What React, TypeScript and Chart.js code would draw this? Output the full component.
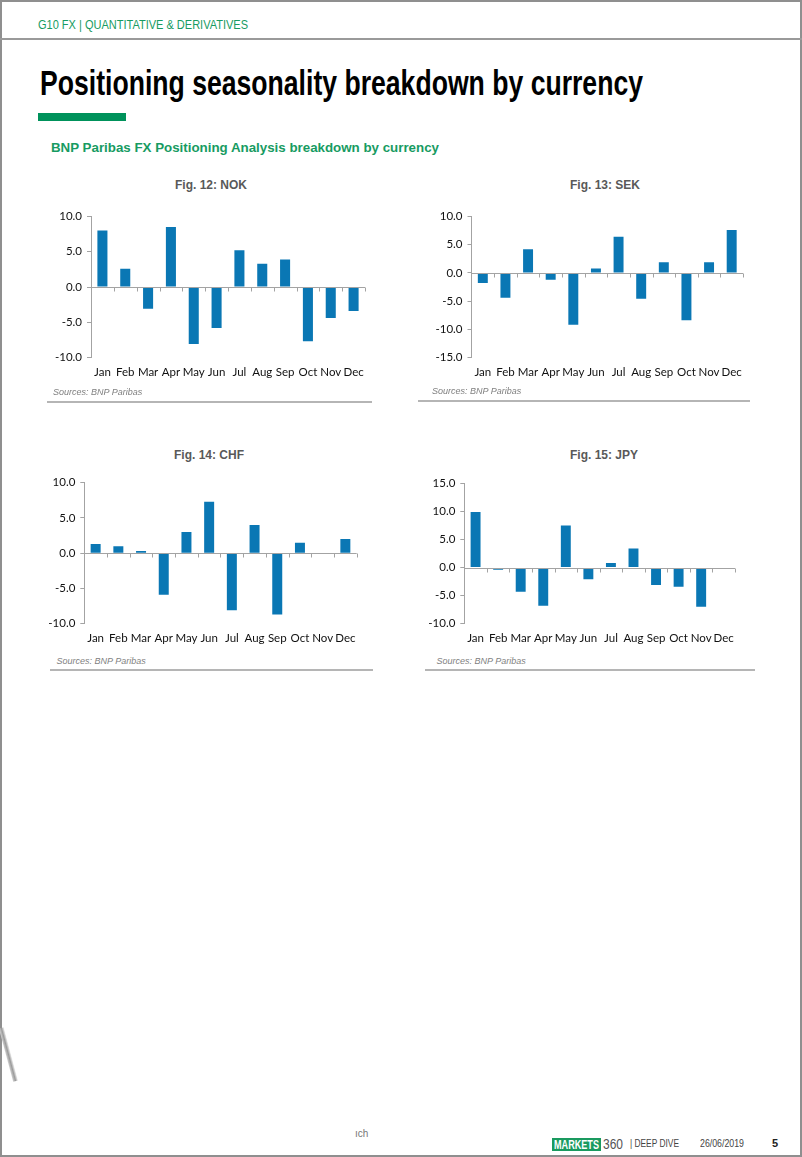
import React, { useEffect, useLayoutEffect, useRef } from "react";
import { Chart, registerables } from "chart.js";

Chart.register(...registerables);

const months = ["Jan", "Feb", "Mar", "Apr", "May", "Jun", "Jul", "Aug", "Sep", "Oct", "Nov", "Dec"];
const nokValues = [8.0, 2.6, -3.1, 8.5, -8.1, -5.8, 5.2, 3.3, 3.9, -7.7, -4.4, -3.4];
const sekValues = [-1.8, -4.4, 4.2, -1.2, -9.2, 0.8, 6.4, -4.6, 1.9, -8.4, 1.9, 7.6];
const chfValues = [1.3, 1.0, 0.3, -5.9, 3.0, 7.3, -8.1, 4.0, -8.7, 1.5, 0.0, 2.0];
const jpyValues = [9.9, -0.4, -4.3, -6.8, 7.5, -2.1, 0.8, 3.4, -3.1, -3.4, -7.0, 0.0];
const nokTicks = { min: -10, max: 10, step: 5 };
const sekTicks = { min: -15, max: 10, step: 5 };
const chfTicks = { min: -10, max: 10, step: 5 };
const jpyTicks = { min: -10, max: 15, step: 5 };

const BAR = "#0a77b4";
const AXIS = "#a3a3a3";
const GREEN = "#179b62";

const zeroAxisPlugin = {
  id: "zeroAxis",
  afterDatasetsDraw(chart: any) {
    const { ctx, chartArea, scales } = chart;
    const x = scales.x;
    const y = scales.y;
    const y0 = Math.round(y.getPixelForValue(0)) + 0.5;
    ctx.save();
    ctx.strokeStyle = AXIS;
    ctx.lineWidth = 1;
    ctx.beginPath();
    ctx.moveTo(chartArea.left, y0);
    ctx.lineTo(chartArea.right, y0);
    const n = chart.data.labels.length;
    for (let i = 1; i <= n; i++) {
      const px = i < n ? (x.getPixelForValue(i - 1) + x.getPixelForValue(i)) / 2 : chartArea.right;
      const xx = Math.round(px) + 0.5;
      ctx.moveTo(xx, y0);
      ctx.lineTo(xx, y0 + 4);
    }
    ctx.stroke();
    ctx.restore();
  },
};

type BoxProps = {
  values: number[];
  ticks: { min: number; max: number; step: number };
  left: number;
  top: number;
  width: number;
  height: number;
  yAxisWidth: number;
  padTop: number;
  padRight: number;
  xAxisHeight: number;
};

function BarBox(p: BoxProps) {
  const ref = useRef<HTMLCanvasElement>(null);
  useEffect(() => {
    if (!ref.current) return;
    const chart = new Chart(ref.current, {
      type: "bar",
      data: {
        labels: months,
        datasets: [
          {
            data: p.values,
            backgroundColor: BAR,
            borderWidth: 0,
            barPercentage: 0.44,
            categoryPercentage: 1,
          },
        ],
      },
      options: {
        responsive: false,
        animation: false,
        events: [],
        layout: { padding: { top: p.padTop, right: p.padRight, left: 0, bottom: 0 } },
        plugins: { legend: { display: false }, tooltip: { enabled: false }, title: { display: false } },
        scales: {
          x: {
            type: "category",
            offset: true,
            grid: { display: false, drawTicks: false },
            border: { display: false },
            ticks: {
              autoSkip: false,
              maxRotation: 0,
              minRotation: 0,
              padding: 8,
              color: "#111",
              font: { family: "Lato", size: 11.5 },
            },
            afterFit: (s: any) => {
              s.height = p.xAxisHeight;
            },
          },
          y: {
            min: p.ticks.min,
            max: p.ticks.max,
            grid: {
              drawOnChartArea: false,
              drawTicks: true,
              tickLength: 4,
              tickColor: AXIS,
              color: AXIS,
            },
            border: { display: true, color: AXIS },
            ticks: {
              stepSize: p.ticks.step,
              padding: 5,
              color: "#111",
              font: { family: "Lato", size: 11.5 },
              callback: (v: any) => Number(v).toFixed(1),
            },
            afterFit: (s: any) => {
              s.width = p.yAxisWidth;
            },
          },
        },
      },
      plugins: [zeroAxisPlugin],
    } as any);
    return () => chart.destroy();
  }, []);
  return (
    <canvas
      ref={ref}
      width={p.width}
      height={p.height}
      style={{ position: "absolute", left: p.left, top: p.top, width: p.width, height: p.height }}
    />
  );
}

type TextProps = {
  text: string;
  x: number;
  cy: number;
  size: number;
  color: string;
  weight?: number | string;
  family?: string;
  italic?: boolean;
  fit?: number;
  center?: boolean;
};

function Txt(t: TextProps) {
  const ref = useRef<HTMLDivElement>(null);
  useLayoutEffect(() => {
    const el = ref.current;
    if (!el || !t.fit) return;
    el.style.transform = "none";
    const w = el.getBoundingClientRect().width;
    if (w > 0) el.style.transform = `scaleX(${t.fit / w})`;
  }, []);
  return (
    <div
      ref={ref}
      style={{
        position: "absolute",
        left: t.center ? undefined : t.x,
        top: t.cy - t.size / 2,
        height: t.size,
        lineHeight: `${t.size}px`,
        fontSize: t.size,
        fontFamily: t.family || "'Liberation Sans', Arial, sans-serif",
        fontWeight: t.weight || 400,
        fontStyle: t.italic ? "italic" : "normal",
        color: t.color,
        whiteSpace: "nowrap",
        transformOrigin: "left center",
        ...(t.center ? { left: t.x, transform: "translateX(-50%)" } : {}),
      }}
    >
      {t.text}
    </div>
  );
}

const NARROW = "'Liberation Sans Narrow', 'Arial Narrow', 'Liberation Sans', Arial, sans-serif";

export default function App() {
  useEffect(() => {
    document.body.style.margin = "0";
  }, []);
  return (
    <div
      style={{
        position: "absolute",
        left: 0,
        top: 0,
        width: 802,
        height: 1157,
        background: "#fff",
        overflow: "hidden",
      }}
    >
      <div
        style={{
          position: "absolute",
          left: 0,
          top: 0,
          width: 802,
          height: 1157,
          boxSizing: "border-box",
          border: "2px solid #8f8f8f",
        }}
      />
      <div style={{ position: "absolute", left: 0, top: 38, width: 802, height: 2, background: "#9a9a9a" }} />
      <Txt text="G10 FX | QUANTITATIVE & DERIVATIVES" x={38} cy={24} size={13} color={GREEN} family={NARROW} fit={210} />
      <Txt
        text="Positioning seasonality breakdown by currency"
        x={40}
        cy={82.5}
        size={35}
        color="#000"
        weight={700}
        family={NARROW}
        fit={603}
      />
      <div style={{ position: "absolute", left: 38, top: 113, width: 88, height: 8, background: "#00925b" }} />
      <Txt
        text="BNP Paribas FX Positioning Analysis breakdown by currency"
        x={51}
        cy={147.5}
        size={13}
        color={GREEN}
        weight={700}
        fit={388}
      />

      <Txt text="Fig. 12: NOK" x={211} cy={185} size={12} color="#595959" weight={700} center />
      <Txt text="Fig. 13: SEK" x={605} cy={185} size={12} color="#595959" weight={700} center />
      <Txt text="Fig. 14: CHF" x={209} cy={455} size={12} color="#595959" weight={700} center />
      <Txt text="Fig. 15: JPY" x={604} cy={455} size={12} color="#595959" weight={700} center />

      <BarBox values={nokValues} ticks={nokTicks} left={40} top={200} width={335} height={190} yAxisWidth={51} padTop={16.5} padRight={10} xAxisHeight={32.5} />
      <BarBox values={sekValues} ticks={sekTicks} left={415} top={200} width={340} height={190} yAxisWidth={56.5} padTop={16.5} padRight={12} xAxisHeight={32.5} />
      <BarBox values={chfValues} ticks={chfTicks} left={35} top={465} width={335} height={190} yAxisWidth={49.3} padTop={17.7} padRight={13.3} xAxisHeight={31.3} />
      <BarBox values={jpyValues} ticks={jpyTicks} left={415} top={465} width={340} height={190} yAxisWidth={49.3} padTop={18.3} padRight={20} xAxisHeight={31.3} />

      <Txt text="Sources: BNP Paribas" x={53} cy={392.5} size={9} color="#7f7f7f" italic />
      <Txt text="Sources: BNP Paribas" x={432} cy={391} size={9} color="#7f7f7f" italic />
      <Txt text="Sources: BNP Paribas" x={56.5} cy={661} size={9} color="#7f7f7f" italic />
      <Txt text="Sources: BNP Paribas" x={436.5} cy={661} size={9} color="#7f7f7f" italic />
      <div style={{ position: "absolute", left: 47, top: 401, width: 325, height: 2, background: "#b5b5b5" }} />
      <div style={{ position: "absolute", left: 418, top: 400, width: 332, height: 2, background: "#b5b5b5" }} />
      <div style={{ position: "absolute", left: 50, top: 669, width: 323, height: 2, background: "#b5b5b5" }} />
      <div style={{ position: "absolute", left: 425, top: 669, width: 330, height: 2, background: "#b5b5b5" }} />

      <div
        style={{
          position: "absolute",
          left: 6,
          top: 1027,
          width: 5,
          height: 55,
          transform: "rotate(-15deg)",
          background: "linear-gradient(to right, #d0d0d0, #9a9a9a, #f4f4f4)",
        }}
      />

      <Txt text="ıch" x={355} cy={1134} size={10} color="#777" />
      <div
        style={{
          position: "absolute",
          left: 552,
          top: 1138,
          width: 49,
          height: 13,
          background: "#1a9a5f",
          overflow: "hidden",
        }}
      >
        <Txt text="MARKETS" x={2} cy={6.5} size={12} color="#fff" weight={700} family={NARROW} fit={45} />
      </div>
      <Txt text="360" x={603} cy={1144} size={14} color="#555" family={NARROW} fit={20} />
      <Txt text="| DEEP DIVE" x={630} cy={1143} size={11} color="#444" family={NARROW} fit={49} />
      <Txt text="26/06/2019" x={700} cy={1143} size={11} color="#444" family={NARROW} fit={44} />
      <Txt text="5" x={772} cy={1143} size={11} color="#222" weight={700} />
    </div>
  );
}
